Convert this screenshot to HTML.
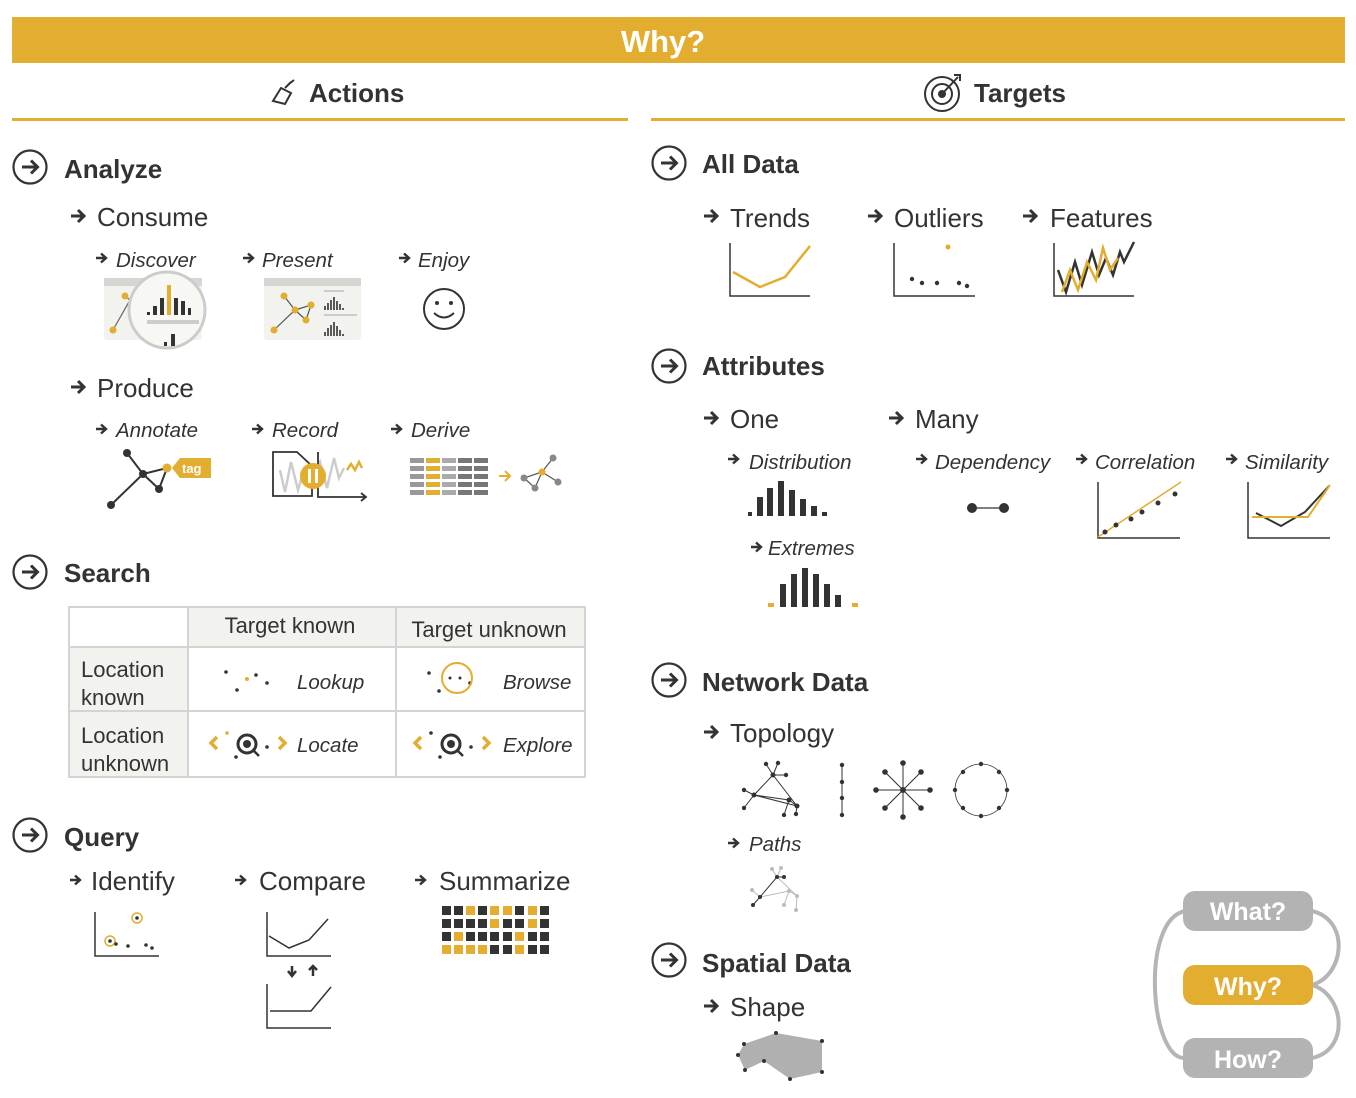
<!DOCTYPE html>
<html><head><meta charset="utf-8"><style>
html,body{margin:0;padding:0;background:#fff;}
svg{display:block;}
text{font-family:"Liberation Sans",sans-serif;fill:#333;}
.h{font-size:26px;font-weight:bold;}
.s{font-size:26px;}
.i{font-size:20.5px;font-style:italic;}
.t{font-size:22px;}
</style></head><body>
<svg width="1356" height="1098" viewBox="0 0 1356 1098" xmlns="http://www.w3.org/2000/svg">
<defs>
<g id="ar"><path d="M0,0 H13 M7,-6 L13,0 L7,6" fill="none" stroke="#333" stroke-width="3"/></g>
<g id="ars"><path d="M0,0 H10 M5,-4.5 L10,0 L5,4.5" fill="none" stroke="#333" stroke-width="2.4"/></g>
<g id="ca"><circle r="16.5" fill="none" stroke="#333" stroke-width="2.2"/><path d="M-8,0 H7 M1,-6.5 L7.5,0 L1,6.5" fill="none" stroke="#333" stroke-width="3"/></g>
</defs>
<rect x="12" y="17" width="1333" height="46" fill="#E3AD2F"/>
<text x="663" y="52" text-anchor="middle" style="font-size:31px;font-weight:bold;fill:#fff">Why?</text>
<g stroke="#333" stroke-width="2" fill="none"><path d="M273,101 L281,88 L291,93 L285,104 Z"/><path d="M285,88 L291,82 M289,84 L294,80"/></g>
<text x="309" y="102" class="h">Actions</text>
<rect x="12" y="118" width="616" height="3" fill="#E3AD2F"/>
<g fill="none" stroke="#333" stroke-width="2"><circle cx="942" cy="94" r="17"/><circle cx="942" cy="94" r="10"/><circle cx="942" cy="94" r="3" fill="#333"/><path d="M942,94 L958,77 M954,75 L960,75 L960,81"/></g>
<text x="974" y="102" class="h">Targets</text>
<rect x="651" y="118" width="694" height="3" fill="#E3AD2F"/>

<use href="#ca" x="30" y="167"/>
<text x="64" y="178" class="h">Analyze</text>
<use href="#ar" x="71" y="216"/><text x="97" y="226" class="s">Consume</text>
<use href="#ars" x="96" y="258"/><text x="116" y="267" class="i">Discover</text>
<use href="#ars" x="243" y="258"/><text x="262" y="267" class="i">Present</text>
<use href="#ars" x="399" y="258"/><text x="418" y="267" class="i">Enjoy</text>
<rect x="104" y="278" width="98" height="62" rx="3" fill="#f2f2ee"/>
<rect x="104" y="278" width="98" height="8" fill="#d6d6d2"/>
<path d="M125,296 L130,300 L113,330" stroke="#666" stroke-width="1.2" fill="none"/>
<circle cx="125" cy="296" r="3.5" fill="#E3AD2F"/><circle cx="113" cy="330" r="3.5" fill="#E3AD2F"/>
<circle cx="167" cy="310" r="38" fill="#f7f7f4" stroke="#ccc" stroke-width="3"/>
<g fill="#333"><rect x="147" y="312" width="3" height="3"/><rect x="153" y="306" width="4" height="9"/><rect x="160" y="298" width="4" height="17"/><rect x="174" y="298" width="4" height="17"/><rect x="181" y="301" width="4" height="14"/><rect x="188" y="308" width="3" height="7"/><rect x="171" y="334" width="4" height="12"/><rect x="164" y="342" width="3" height="4"/></g>
<rect x="167" y="285" width="4" height="30" fill="#E3AD2F"/>
<rect x="147" y="320" width="52" height="4" fill="#ccc"/>
<rect x="264" y="278" width="97" height="62" rx="3" fill="#f2f2ee"/>
<rect x="264" y="278" width="97" height="8" fill="#d6d6d2"/>
<path d="M284,296 L295,310 L311,305 L306,320 L295,310 L274,330" stroke="#555" stroke-width="1.2" fill="none"/>
<g fill="#E3AD2F"><circle cx="284" cy="296" r="3.5"/><circle cx="295" cy="310" r="3.5"/><circle cx="311" cy="305" r="3.5"/><circle cx="306" cy="320" r="3.5"/><circle cx="274" cy="330" r="3.5"/></g>
<rect x="324" y="290" width="20" height="2" fill="#ccc"/><rect x="324" y="314" width="33" height="2" fill="#ccc"/>
<path d="M325,310 V306 M328,310 V303 M331,310 V300 M334,310 V297 M337,310 V301 M340,310 V304 M343,310 V308 M325,336 V332 M328,336 V328 M331,336 V325 M334,336 V322 M337,336 V326 M340,336 V330 M343,336 V334" stroke="#333" stroke-width="1.6"/>
<circle cx="444" cy="309" r="20" fill="none" stroke="#333" stroke-width="2"/>
<circle cx="437" cy="303" r="2" fill="#333"/><circle cx="451" cy="303" r="2" fill="#333"/>
<path d="M434,313 Q444,322 454,313" fill="none" stroke="#333" stroke-width="2"/>

<use href="#ar" x="71" y="387"/><text x="97" y="397" class="s">Produce</text>
<use href="#ars" x="96" y="429"/><text x="116" y="437" class="i">Annotate</text>
<use href="#ars" x="252" y="429"/><text x="272" y="437" class="i">Record</text>
<use href="#ars" x="391" y="429"/><text x="411" y="437" class="i">Derive</text>
<path d="M127,453 L143,474 L111,505 M143,474 L159,489 L167,468 L143,474" stroke="#333" stroke-width="2" fill="none"/>
<g fill="#333"><circle cx="127" cy="453" r="4"/><circle cx="143" cy="474" r="4"/><circle cx="111" cy="505" r="4"/><circle cx="159" cy="489" r="4"/></g>
<circle cx="167" cy="468" r="4.5" fill="#E3AD2F"/>
<path d="M172,468 L180,458 H211 V478 H180 Z" fill="#E3AD2F"/>
<text x="182" y="473" style="font-size:13px;font-weight:bold;fill:#fff">tag</text>
<path d="M273,452 H297 L312,466 V496 H273 Z" fill="none" stroke="#333" stroke-width="1.8"/>
<path d="M280,470 L285,492 L291,462 L298,490 L304,470 L310,486 L320,462 L327,488 L334,458 L339,478 L344,468" fill="none" stroke="#ccc" stroke-width="2.5"/>
<path d="M347,470 L351,464 L355,470 L359,462 L362,468" fill="none" stroke="#E3AD2F" stroke-width="2.5"/>
<path d="M318,452 V497 H366 M361,493 L366,497 L361,501" fill="none" stroke="#333" stroke-width="1.8"/>
<circle cx="313" cy="476" r="13" fill="#E3AD2F"/>
<rect x="308" y="469" width="3" height="14" fill="#fff"/><rect x="315" y="469" width="3" height="14" fill="#fff"/>
<g>
<g fill="#999"><rect x="410" y="458" width="14" height="5"/><rect x="410" y="466" width="14" height="5"/><rect x="410" y="474" width="14" height="5"/><rect x="410" y="482" width="14" height="5"/><rect x="410" y="490" width="14" height="5"/></g>
<g fill="#E3AD2F"><rect x="426" y="458" width="14" height="5"/><rect x="426" y="466" width="14" height="5"/><rect x="426" y="474" width="14" height="5"/><rect x="426" y="482" width="14" height="5"/><rect x="426" y="490" width="14" height="5"/></g>
<g fill="#aaa"><rect x="442" y="458" width="14" height="5"/><rect x="442" y="466" width="14" height="5"/><rect x="442" y="474" width="14" height="5"/><rect x="442" y="482" width="14" height="5"/><rect x="442" y="490" width="14" height="5"/></g>
<g fill="#777"><rect x="458" y="458" width="14" height="5"/><rect x="458" y="466" width="14" height="5"/><rect x="458" y="474" width="14" height="5"/><rect x="458" y="482" width="14" height="5"/><rect x="458" y="490" width="14" height="5"/><rect x="474" y="458" width="14" height="5"/><rect x="474" y="466" width="14" height="5"/><rect x="474" y="474" width="14" height="5"/><rect x="474" y="482" width="14" height="5"/><rect x="474" y="490" width="14" height="5"/></g>
</g>
<path d="M499,476 H510 M505,471 L510,476 L505,481" stroke="#E3AD2F" stroke-width="2" fill="none"/>
<path d="M553,458 L542,472 L524,478 L535,488 L542,472 L558,482" stroke="#555" stroke-width="1.2" fill="none"/>
<g fill="#888"><circle cx="553" cy="458" r="3.5"/><circle cx="524" cy="478" r="3.5"/><circle cx="535" cy="488" r="3.5"/><circle cx="558" cy="482" r="3.5"/></g>
<circle cx="542" cy="472" r="3.5" fill="#E3AD2F"/>

<use href="#ca" x="30" y="572"/>
<text x="64" y="582" class="h">Search</text>
<rect x="69" y="607" width="516" height="40" fill="#f2f2ee"/>
<rect x="69" y="647" width="119" height="130" fill="#f2f2ee"/>
<rect x="69" y="607" width="119" height="40" fill="#fff"/>
<g stroke="#d4d4d4" stroke-width="2" fill="none"><rect x="69" y="607" width="516" height="170"/><path d="M188,607 V777 M396,607 V777 M69,647 H585 M69,711 H585"/></g>
<text x="290" y="633" text-anchor="middle" class="t">Target known</text>
<text x="489" y="637" text-anchor="middle" class="t">Target unknown</text>
<text x="81" y="677" class="t">Location</text><text x="81" y="705" class="t">known</text>
<text x="81" y="743" class="t">Location</text><text x="81" y="771" class="t">unknown</text>
<text x="297" y="689" class="i">Lookup</text><text x="503" y="689" class="i">Browse</text>
<text x="297" y="752" class="i">Locate</text><text x="503" y="752" class="i">Explore</text>
<g fill="#333"><circle cx="226" cy="672" r="1.8"/><circle cx="237" cy="690" r="1.8"/><circle cx="256" cy="675" r="1.8"/><circle cx="267" cy="683" r="1.8"/><circle cx="429" cy="673" r="1.8"/><circle cx="439" cy="691" r="1.8"/><circle cx="450" cy="678" r="1.5"/><circle cx="460" cy="678" r="1.5"/><circle cx="470" cy="683" r="1.8"/></g>
<circle cx="247" cy="679" r="2" fill="#E3AD2F"/>
<circle cx="457" cy="678" r="15" fill="none" stroke="#E3AD2F" stroke-width="2"/>
<g>
<path d="M217,737 L211,743 L217,749 M279,737 L285,743 L279,749" stroke="#E3AD2F" stroke-width="3.5" fill="none"/>
<circle cx="227" cy="733" r="1.8" fill="#E3AD2F"/>
<circle cx="247" cy="744" r="9" fill="none" stroke="#333" stroke-width="3"/><circle cx="247" cy="744" r="4" fill="#333"/>
<path d="M253,750 L259,756" stroke="#333" stroke-width="2.5"/>
<circle cx="236" cy="757" r="1.8" fill="#333"/><circle cx="267" cy="747" r="1.8" fill="#333"/>
</g>
<g>
<path d="M421,737 L415,743 L421,749 M483,737 L489,743 L483,749" stroke="#E3AD2F" stroke-width="3.5" fill="none"/>
<circle cx="431" cy="733" r="1.8" fill="#333"/>
<circle cx="451" cy="744" r="9" fill="none" stroke="#333" stroke-width="3"/><circle cx="451" cy="744" r="4" fill="#333"/>
<path d="M457,750 L463,756" stroke="#333" stroke-width="2.5"/>
<circle cx="440" cy="757" r="1.8" fill="#333"/><circle cx="471" cy="747" r="1.8" fill="#333"/>
</g>

<use href="#ca" x="30" y="835"/>
<text x="64" y="846" class="h">Query</text>
<use href="#ars" x="70" y="880"/><text x="91" y="890" class="s">Identify</text>
<use href="#ars" x="235" y="880"/><text x="259" y="890" class="s">Compare</text>
<use href="#ars" x="415" y="880"/><text x="439" y="890" class="s">Summarize</text>
<path d="M95,912 V956 H159" stroke="#333" stroke-width="1.5" fill="none"/>
<circle cx="137" cy="918" r="5" fill="none" stroke="#E3AD2F" stroke-width="1.5"/><circle cx="137" cy="918" r="1.8" fill="#333"/>
<circle cx="110" cy="941" r="5" fill="none" stroke="#E3AD2F" stroke-width="1.5"/>
<g fill="#333"><circle cx="110" cy="941" r="1.8"/><circle cx="116" cy="944" r="1.8"/><circle cx="128" cy="946" r="1.8"/><circle cx="146" cy="945" r="1.8"/><circle cx="152" cy="948" r="1.8"/></g>
<path d="M267,912 V956 H331 M269,936 L289,948 L309,940 L328,919" stroke="#333" stroke-width="1.5" fill="none"/>
<path d="M267,984 V1028 H331 M270,1011 H311 L331,987" stroke="#333" stroke-width="1.5" fill="none"/>
<path d="M292,966 V976 M288,971 L292,976 L296,971 M313,976 V966 M309,970 L313,966 L317,970" stroke="#333" stroke-width="2.5" fill="none"/>
<g>
<g fill="#333">
<rect x="442" y="906" width="9" height="9"/><rect x="454" y="906" width="9" height="9"/><rect x="478" y="906" width="9" height="9"/><rect x="515" y="906" width="9" height="9"/><rect x="540" y="906" width="9" height="9"/>
<rect x="442" y="919" width="9" height="9"/><rect x="454" y="919" width="9" height="9"/><rect x="466" y="919" width="9" height="9"/><rect x="478" y="919" width="9" height="9"/><rect x="503" y="919" width="9" height="9"/><rect x="515" y="919" width="9" height="9"/><rect x="540" y="919" width="9" height="9"/>
<rect x="442" y="932" width="9" height="9"/><rect x="466" y="932" width="9" height="9"/><rect x="478" y="932" width="9" height="9"/><rect x="490" y="932" width="9" height="9"/><rect x="503" y="932" width="9" height="9"/><rect x="528" y="932" width="9" height="9"/><rect x="540" y="932" width="9" height="9"/>
<rect x="490" y="945" width="9" height="9"/><rect x="503" y="945" width="9" height="9"/><rect x="528" y="945" width="9" height="9"/><rect x="540" y="945" width="9" height="9"/>
</g>
<g fill="#E3AD2F">
<rect x="466" y="906" width="9" height="9"/><rect x="490" y="906" width="9" height="9"/><rect x="503" y="906" width="9" height="9"/><rect x="528" y="906" width="9" height="9"/>
<rect x="490" y="919" width="9" height="9"/><rect x="528" y="919" width="9" height="9"/>
<rect x="454" y="932" width="9" height="9"/><rect x="515" y="932" width="9" height="9"/>
<rect x="442" y="945" width="9" height="9"/><rect x="454" y="945" width="9" height="9"/><rect x="466" y="945" width="9" height="9"/><rect x="478" y="945" width="9" height="9"/><rect x="515" y="945" width="9" height="9"/>
</g>
</g>

<use href="#ca" x="669" y="163"/>
<text x="702" y="173" class="h">All Data</text>
<use href="#ar" x="704" y="216"/><text x="730" y="227" class="s">Trends</text>
<use href="#ar" x="868" y="216"/><text x="894" y="227" class="s">Outliers</text>
<use href="#ar" x="1023" y="216"/><text x="1050" y="227" class="s">Features</text>
<path d="M730,243 V296 H810 M894,243 V296 H975 M1054,243 V296 H1134" stroke="#333" stroke-width="1.5" fill="none"/>
<path d="M733,272 L760,287 L785,277 L810,246" stroke="#E3AD2F" stroke-width="2.5" fill="none"/>
<circle cx="948" cy="247" r="2.5" fill="#E3AD2F"/>
<g fill="#333"><circle cx="912" cy="279" r="2.2"/><circle cx="922" cy="283" r="2.2"/><circle cx="937" cy="283" r="2.2"/><circle cx="959" cy="283" r="2.2"/><circle cx="967" cy="286" r="2.2"/></g>
<path d="M1058,270 L1066,292 L1075,262 L1082,285 L1092,252 L1099,275 L1106,258 L1113,275 L1120,252 L1124,262 L1134,242" stroke="#333" stroke-width="2.5" fill="none"/>
<path d="M1062,292 L1070,270 L1078,290 L1087,262 L1096,280 L1103,248 L1110,270 L1118,258" stroke="#E3AD2F" stroke-width="2.5" fill="none"/>

<use href="#ca" x="669" y="366"/>
<text x="702" y="375" class="h">Attributes</text>
<use href="#ar" x="704" y="418"/><text x="730" y="428" class="s">One</text>
<use href="#ar" x="889" y="418"/><text x="915" y="428" class="s">Many</text>
<use href="#ars" x="728" y="459"/><text x="749" y="469" class="i">Distribution</text>
<use href="#ars" x="916" y="459"/><text x="935" y="469" class="i">Dependency</text>
<use href="#ars" x="1076" y="459"/><text x="1095" y="469" class="i">Correlation</text>
<use href="#ars" x="1226" y="459"/><text x="1245" y="469" class="i">Similarity</text>
<g fill="#333"><rect x="748" y="512" width="4" height="4"/><rect x="757" y="497" width="6" height="19"/><rect x="767" y="488" width="6" height="28"/><rect x="778" y="481" width="6" height="35"/><rect x="789" y="490" width="6" height="26"/><rect x="800" y="499" width="6" height="17"/><rect x="811" y="506" width="6" height="10"/><rect x="822" y="512" width="5" height="4"/></g>
<use href="#ars" x="751" y="547"/><text x="768" y="555" class="i">Extremes</text>
<g fill="#333"><rect x="780" y="584" width="6" height="23"/><rect x="791" y="574" width="6" height="33"/><rect x="802" y="568" width="6" height="39"/><rect x="813" y="574" width="6" height="33"/><rect x="824" y="584" width="6" height="23"/><rect x="835" y="595" width="6" height="12"/></g>
<rect x="768" y="603" width="6" height="4" fill="#E3AD2F"/><rect x="852" y="603" width="6" height="4" fill="#E3AD2F"/>
<path d="M972,508 H1004" stroke="#333" stroke-width="1.2"/><circle cx="972" cy="508" r="5" fill="#333"/><circle cx="1004" cy="508" r="5" fill="#333"/>
<path d="M1098,482 V538 H1180 M1248,482 V538 H1330" stroke="#333" stroke-width="1.5" fill="none"/>
<path d="M1098,537 L1181,482" stroke="#E3AD2F" stroke-width="1.5"/>
<g fill="#333"><circle cx="1105" cy="532" r="2.5"/><circle cx="1116" cy="525" r="2.5"/><circle cx="1131" cy="519" r="2.5"/><circle cx="1142" cy="512" r="2.5"/><circle cx="1158" cy="503" r="2.5"/><circle cx="1175" cy="494" r="2.5"/></g>
<path d="M1256,513 L1281,526 L1305,512 L1329,486" stroke="#333" stroke-width="2" fill="none"/>
<path d="M1252,517 H1308 L1330,485" stroke="#E3AD2F" stroke-width="2" fill="none"/>

<use href="#ca" x="669" y="680"/>
<text x="702" y="691" class="h">Network Data</text>
<use href="#ar" x="704" y="732"/><text x="730" y="742" class="s">Topology</text>
<g stroke="#333" stroke-width="1" fill="none"><path d="M773,775 L754,795 L797,806 L789,800 L754,795 L744,790 M754,795 L744,808 M773,775 L797,806 M773,775 L766,764 M773,775 L778,763 M773,775 L786,775 M789,800 L784,815 M797,806 L796,813 M797,806 L789,800"/></g>
<g fill="#333"><circle cx="773" cy="775" r="2.5"/><circle cx="754" cy="795" r="2.5"/><circle cx="797" cy="806" r="2.5"/><circle cx="789" cy="800" r="2.5"/><circle cx="744" cy="790" r="2.2"/><circle cx="744" cy="808" r="2.2"/><circle cx="766" cy="764" r="2.2"/><circle cx="778" cy="763" r="2.2"/><circle cx="786" cy="775" r="2.2"/><circle cx="784" cy="815" r="2.2"/><circle cx="796" cy="814" r="2.2"/></g>
<path d="M842,765 V815" stroke="#333" stroke-width="1"/>
<g fill="#333"><circle cx="842" cy="765" r="2.2"/><circle cx="842" cy="782" r="2.2"/><circle cx="842" cy="798" r="2.2"/><circle cx="842" cy="815" r="2.2"/></g>
<g stroke="#333" stroke-width="1"><path d="M903,763 V817 M876,790 H930 M885,772 L921,808 M921,772 L885,808"/></g>
<g fill="#333"><circle cx="903" cy="790" r="3"/><circle cx="903" cy="763" r="2.8"/><circle cx="903" cy="817" r="2.8"/><circle cx="876" cy="790" r="2.8"/><circle cx="930" cy="790" r="2.8"/><circle cx="885" cy="772" r="2.8"/><circle cx="921" cy="808" r="2.8"/><circle cx="921" cy="772" r="2.8"/><circle cx="885" cy="808" r="2.8"/></g>
<ellipse cx="981" cy="790" rx="26" ry="26" fill="none" stroke="#333" stroke-width="0.8"/>
<g fill="#333"><circle cx="981" cy="764" r="2.2"/><circle cx="981" cy="816" r="2.2"/><circle cx="955" cy="790" r="2.2"/><circle cx="1007" cy="790" r="2.2"/><circle cx="963" cy="772" r="2.2"/><circle cx="999" cy="772" r="2.2"/><circle cx="963" cy="808" r="2.2"/><circle cx="999" cy="808" r="2.2"/></g>
<use href="#ars" x="728" y="843"/><text x="749" y="851" class="i">Paths</text>
<g stroke="#bbb" stroke-width="1" fill="none"><path d="M777,877 L797,896 L789,891 L760,897 M789,891 L784,905 M797,896 L796,910 M777,877 L772,869 M777,877 L781,868 M760,897 L752,890"/></g>
<path d="M784,877 L777,877 L760,897 L753,905" stroke="#333" stroke-width="1" fill="none"/>
<g fill="#333"><circle cx="777" cy="877" r="2"/><circle cx="784" cy="877" r="2"/><circle cx="760" cy="897" r="2"/><circle cx="753" cy="905" r="2"/></g>
<g fill="#bbb"><circle cx="797" cy="896" r="2"/><circle cx="789" cy="891" r="2"/><circle cx="784" cy="905" r="2"/><circle cx="796" cy="910" r="2"/><circle cx="772" cy="869" r="2"/><circle cx="781" cy="868" r="2"/><circle cx="752" cy="890" r="2"/></g>

<use href="#ca" x="669" y="960"/>
<text x="702" y="972" class="h">Spatial Data</text>
<use href="#ar" x="704" y="1006"/><text x="730" y="1016" class="s">Shape</text>
<path d="M744,1044 L776,1033 L822,1041 L822,1072 L790,1079 L764,1061 L745,1070 L738,1055 Z" fill="#b0b0b0"/>
<g fill="#333"><circle cx="744" cy="1044" r="2"/><circle cx="776" cy="1033" r="2"/><circle cx="822" cy="1041" r="2"/><circle cx="822" cy="1072" r="2"/><circle cx="790" cy="1079" r="2"/><circle cx="764" cy="1061" r="2"/><circle cx="745" cy="1070" r="2"/><circle cx="738" cy="1055" r="2"/></g>

<g fill="none" stroke="#b5b5b5" stroke-width="4">
<path d="M1185,911 C1140,920 1150,1060 1185,1058"/>
<path d="M1312,911 C1350,920 1345,975 1312,985"/>
<path d="M1312,985 C1345,995 1350,1050 1312,1058"/>
</g>
<rect x="1183" y="891" width="130" height="40" rx="12" fill="#b3b3b3"/>
<rect x="1183" y="965" width="130" height="40" rx="12" fill="#E3AD2F"/>
<rect x="1183" y="1038" width="130" height="40" rx="12" fill="#b3b3b3"/>
<text x="1248" y="920" text-anchor="middle" style="font-size:25px;font-weight:bold;fill:#fff">What?</text>
<text x="1248" y="995" text-anchor="middle" style="font-size:25px;font-weight:bold;fill:#fff">Why?</text>
<text x="1248" y="1068" text-anchor="middle" style="font-size:25px;font-weight:bold;fill:#fff">How?</text>
</svg>
</body></html>
